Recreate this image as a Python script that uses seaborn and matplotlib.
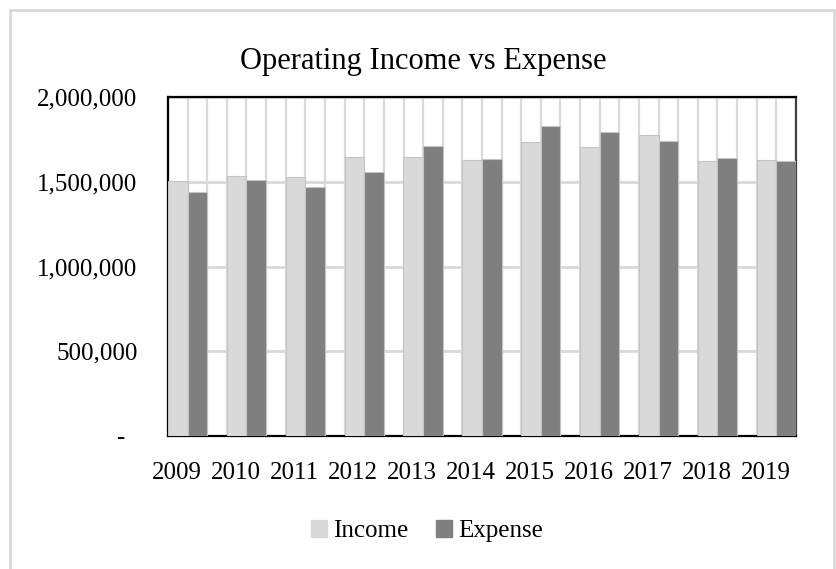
import pandas as pd
import matplotlib.pyplot as plt
import matplotlib.transforms as mtransforms
from matplotlib.patches import Rectangle
import seaborn as sns

sns.set_theme(style="white")
plt.rcParams["font.family"] = ["Liberation Serif", "DejaVu Serif"]
plt.rcParams["text.color"] = "black"

years = ["2009", "2010", "2011", "2012", "2013", "2014", "2015", "2016", "2017", "2018", "2019"]
income = [1506000, 1532000, 1526000, 1646000, 1644000, 1630000, 1733000, 1705000, 1774000, 1622000, 1626000]
expense = [1438000, 1508000, 1471000, 1559000, 1709000, 1634000, 1831000, 1794000, 1742000, 1640000, 1625000]
yticks = [0, 500000, 1000000, 1500000, 2000000]

INCOME_C = "#d9d9d9"
EXPENSE_C = "#7f7f7f"

df = pd.DataFrame({
    "Year": years * 2,
    "Value": income + expense,
    "Series": ["Income"] * len(years) + ["Expense"] * len(years),
})

fig = plt.figure(figsize=(8.37, 5.69), dpi=100)
ax = fig.add_axes([168 / 837, 1 - 436 / 569, (796 - 168) / 837, (436 - 97) / 569])

sns.barplot(data=df, x="Year", y="Value", hue="Series", order=years,
            palette={"Income": INCOME_C, "Expense": EXPENSE_C},
            width=2 / 3, gap=0, edgecolor="#c4c4c4", linewidth=0.8,
            errorbar=None, legend=False, zorder=3, ax=ax)

# tight x-limits on the bars, and light vertical lines at each bar edge
bars = [p for p in ax.patches if p.get_width() > 0]
lefts = [p.get_x() for p in bars]
rights = [p.get_x() + p.get_width() for p in bars]
ax.set_xlim(min(lefts), max(rights))
for x in sorted(set([round(v, 6) for v in lefts + rights])):
    ax.axvline(x, color="#d9d9d9", lw=1.6, zorder=1)

ax.set_ylim(0, 2000000)
ax.set_yticks(yticks)
ax.set_yticklabels(["-  " if v == 0 else f"{v:,}" for v in yticks])
ax.yaxis.grid(True, color="#d9d9d9", lw=2, zorder=0)
ax.set_axisbelow(True)
ax.set_xlabel("")
ax.set_ylabel("")
ax.tick_params(axis="y", length=0, pad=22, labelsize=18, labelcolor="black")
ax.tick_params(axis="x", length=0, pad=19, labelsize=18, labelcolor="black")

shift = mtransforms.ScaledTranslation(-11 / 100, 0, fig.dpi_scale_trans)
for lbl in ax.get_xticklabels():
    lbl.set_transform(lbl.get_transform() + shift)

for side in ["left", "top", "bottom"]:
    ax.spines[side].set_color("black")
    ax.spines[side].set_linewidth(1.6)
ax.spines["right"].set_color("#404040")
ax.spines["right"].set_linewidth(1.6)

fig.text(423 / 837, 1 - 61 / 569, "Operating Income vs Expense",
         ha="center", va="center", fontsize=22, color="black")

handles = [Rectangle((0, 0), 1, 1, color=INCOME_C), Rectangle((0, 0), 1, 1, color=EXPENSE_C)]
fig.legend(handles, ["Income", "Expense"], loc="center", ncol=2, frameon=False,
           bbox_to_anchor=(427 / 837, 1 - 531 / 569), fontsize=18, labelcolor="black",
           handlelength=0.65, handleheight=0.65, handletextpad=0.25, columnspacing=1.1)

# light outer chart border
fig.patches.append(Rectangle((10 / 837, -0.05), 824 / 837, 1.05 - 10 / 569,
                             transform=fig.transFigure, fill=False,
                             edgecolor="#d9d9d9", lw=2))

fig.savefig("out.png", dpi=100)
plt.close()
